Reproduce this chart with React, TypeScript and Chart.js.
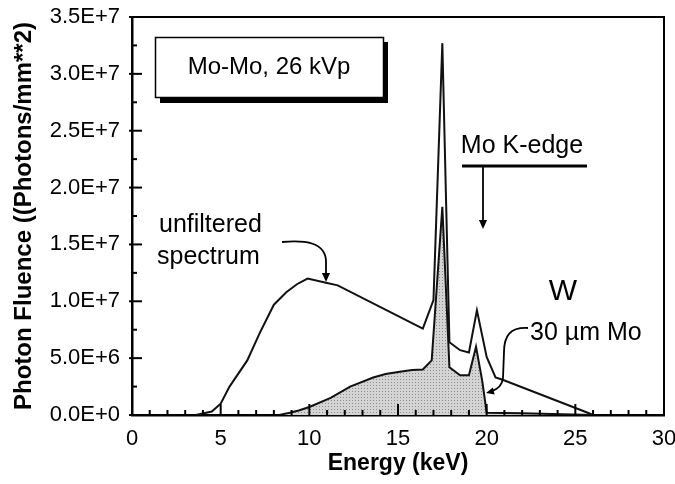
import React, { useEffect, useRef } from "react";
import { Chart, registerables } from "chart.js";

Chart.register(...registerables);

// ---- Data (energy in keV, fluence in photons/mm^2) ----
const unfilteredEnergy = [3.6, 4.5, 5.0, 5.5, 6.5, 7.2, 8.0, 8.7, 9.3, 9.9, 11.0, 11.6, 16.4, 17.0, 17.5, 17.9, 18.5, 19.0, 19.45, 20.0, 20.5, 20.9, 25.7, 26.0];
const unfilteredFluence = [0, 3.0e5, 1.0e6, 2.5e6, 4.8e6, 7.2e6, 9.7e6, 1.08e7, 1.15e7, 1.2e7, 1.16e7, 1.14e7, 7.6e6, 1.01e7, 3.27e7, 6.4e6, 5.7e6, 5.5e6, 9.2e6, 5.1e6, 3.3e6, 3.1e6, 2.0e5, 0];

const filteredEnergy = [8.3, 8.9, 9.4, 10.0, 11.2, 12.3, 13.6, 14.3, 15.1, 15.8, 16.4, 16.9, 17.5, 17.9, 18.5, 19.0, 19.4, 19.75, 20.0, 22.0, 26.0];
const filteredFluence = [0, 2.0e5, 4.0e5, 7.0e5, 1.5e6, 2.5e6, 3.3e6, 3.6e6, 3.8e6, 3.95e6, 4.0e6, 4.8e6, 1.83e7, 4.2e6, 3.5e6, 3.5e6, 6.0e6, 3.0e6, 2.0e5, 1.5e5, 0];

const xMin = 0;
const xMax = 30;
const xMajorStep = 5;
const xMinorStep = 1;
const yMin = 0;
const yMax = 3.5e7;
const yMajorStep = 5e6;
const yMinorStep = 2.5e6;

const FONT = '"Liberation Sans", Arial, Helvetica, sans-serif';

function fmtSci(v: number): string {
  if (v === 0) return "0.0E+0";
  const e = Math.floor(Math.log10(v) + 1e-9);
  const m = v / Math.pow(10, e);
  return m.toFixed(1) + "E+" + e;
}

function arrowHead(ctx: CanvasRenderingContext2D, x: number, y: number, angle: number, size: number) {
  ctx.save();
  ctx.translate(x, y);
  ctx.rotate(angle);
  ctx.beginPath();
  ctx.moveTo(0, 0);
  ctx.lineTo(-size, -size * 0.45);
  ctx.lineTo(-size, size * 0.45);
  ctx.closePath();
  ctx.fill();
  ctx.restore();
}

const decorPlugin = {
  id: "decor",
  afterDraw(chart: any) {
    const ctx: CanvasRenderingContext2D = chart.ctx;
    const { left, top, right, bottom } = chart.chartArea;
    const xs = chart.scales.x;
    const ys = chart.scales.y;
    ctx.save();
    ctx.strokeStyle = "#000";
    ctx.fillStyle = "#000";
    ctx.lineWidth = 2;
    // frame (top & right)
    ctx.beginPath();
    ctx.moveTo(left, top);
    ctx.lineTo(right, top);
    ctx.lineTo(right, bottom);
    ctx.stroke();
    // inward ticks
    for (let e = xMin; e <= xMax; e += xMinorStep) {
      const px = xs.getPixelForValue(e);
      const len = e % xMajorStep === 0 ? 11 : 5;
      ctx.beginPath();
      ctx.moveTo(px, bottom);
      ctx.lineTo(px, bottom - len);
      ctx.stroke();
    }
    for (let v = yMin; v <= yMax + 1; v += yMinorStep) {
      const py = ys.getPixelForValue(v);
      const major = Math.round(v / yMinorStep) % 2 === 0;
      ctx.beginPath();
      ctx.moveTo(left - (major ? 3 : 0), py);
      ctx.lineTo(left + (major ? 10 : 5), py);
      ctx.stroke();
    }

    // label box with shadow
    ctx.fillStyle = "#000";
    ctx.fillRect(160, 42, 228, 61);
    ctx.fillStyle = "#fff";
    ctx.fillRect(155, 37, 228, 60);
    ctx.lineWidth = 1.5;
    ctx.strokeRect(155.5, 37.5, 228, 60);
    ctx.fillStyle = "#000";
    ctx.font = `24px ${FONT}`;
    ctx.textBaseline = "middle";
    ctx.textAlign = "center";
    ctx.fillText("Mo-Mo, 26 kVp", 269, 67);

    // unfiltered spectrum
    ctx.textAlign = "left";
    ctx.font = `25px ${FONT}`;
    ctx.fillText("unfiltered", 159, 225);
    ctx.fillText("spectrum", 157, 257);
    ctx.lineWidth = 1.8;
    ctx.beginPath();
    ctx.moveTo(282, 242);
    ctx.bezierCurveTo(305, 240, 326, 242, 326, 262);
    ctx.lineTo(326, 274);
    ctx.stroke();
    arrowHead(ctx, 326, 282, Math.PI / 2, 9);

    // Mo K-edge
    ctx.textAlign = "center";
    ctx.font = `25px ${FONT}`;
    ctx.fillText("Mo K-edge", 522, 146);
    ctx.lineWidth = 3;
    ctx.beginPath();
    ctx.moveTo(462, 166);
    ctx.lineTo(587, 166);
    ctx.stroke();
    ctx.lineWidth = 1.8;
    ctx.beginPath();
    ctx.moveTo(483, 166);
    ctx.lineTo(483, 222);
    ctx.stroke();
    arrowHead(ctx, 483, 229, Math.PI / 2, 9);

    // W
    ctx.font = `30px ${FONT}`;
    ctx.fillText("W", 563, 292);

    // 30 um Mo
    ctx.textAlign = "left";
    ctx.font = `25px ${FONT}`;
    ctx.fillText("30 \u00b5m Mo", 530, 333);
    ctx.lineWidth = 1.8;
    ctx.beginPath();
    ctx.moveTo(528, 328);
    ctx.bezierCurveTo(510, 327, 504, 336, 504, 352);
    ctx.lineTo(503, 378);
    ctx.bezierCurveTo(502, 386, 498, 389, 492, 391);
    ctx.stroke();
    arrowHead(ctx, 486, 393, Math.PI * 0.92, 8);

    ctx.restore();
  },
};

export default function App() {
  const canvasRef = useRef<HTMLCanvasElement | null>(null);

  useEffect(() => {
    const canvas = canvasRef.current;
    if (!canvas) return;

    // dotted grey pattern for the filtered area
    const pc = document.createElement("canvas");
    pc.width = 3;
    pc.height = 3;
    const pctx = pc.getContext("2d")!;
    pctx.fillStyle = "#d4d4d4";
    pctx.fillRect(0, 0, 3, 3);
    pctx.fillStyle = "#8e8e8e";
    pctx.fillRect(1, 1, 1, 1);
    const pattern = canvas.getContext("2d")!.createPattern(pc, "repeat");

    const unfiltered = unfilteredEnergy.map((e, i) => ({ x: e, y: unfilteredFluence[i] }));
    const filtered = filteredEnergy.map((e, i) => ({ x: e, y: filteredFluence[i] }));

    const chart = new Chart(canvas, {
      type: "line",
      data: {
        datasets: [
          {
            label: "unfiltered spectrum",
            data: unfiltered,
            borderColor: "#111",
            borderWidth: 2,
            pointRadius: 0,
            tension: 0,
            fill: false,
          },
          {
            label: "30 µm Mo",
            data: filtered,
            borderColor: "#111",
            borderWidth: 2,
            pointRadius: 0,
            tension: 0,
            fill: "origin",
            backgroundColor: pattern as any,
          },
        ],
      },
      options: {
        responsive: false,
        maintainAspectRatio: false,
        animation: false,
        devicePixelRatio: 1,
        layout: { padding: { top: 17, right: 11, left: 0, bottom: 0 } },
        plugins: {
          legend: { display: false },
          tooltip: { enabled: false },
        },
        scales: {
          x: {
            type: "linear",
            min: xMin,
            max: xMax,
            grid: { display: false, drawTicks: false },
            border: { display: true, color: "#000", width: 2.5 },
            ticks: {
              stepSize: xMajorStep,
              color: "#000",
              font: { family: FONT, size: 22 },
              padding: 11,
              maxRotation: 0,
              callback: (v: any) => String(v),
            },
            title: {
              display: true,
              text: "Energy (keV)",
              color: "#000",
              font: { family: FONT, size: 23, weight: "bold" },
              padding: { top: 0, bottom: 7 },
            },
            afterFit: (scale: any) => {
              scale.height = 69;
              scale.paddingLeft = 0;
              scale.paddingRight = 0;
            },
          },
          y: {
            type: "linear",
            min: yMin,
            max: yMax,
            grid: { display: false, drawTicks: false },
            border: { display: true, color: "#000", width: 2.5 },
            ticks: {
              stepSize: yMajorStep,
              color: "#000",
              font: { family: FONT, size: 22 },
              padding: 12,
              callback: (v: any) => fmtSci(Number(v)),
            },
            title: {
              display: true,
              text: "Photon Fluence ((Photons/mm**2)",
              color: "#000",
              font: { family: FONT, size: 24, weight: "bold" },
              padding: { top: 10, bottom: 0 },
            },
            afterFit: (scale: any) => {
              scale.width = 132;
              scale.paddingTop = 0;
              scale.paddingBottom = 0;
            },
          },
        },
      },
      plugins: [decorPlugin],
    });

    return () => chart.destroy();
  }, []);

  return (
    <div style={{ position: "fixed", left: 0, top: 0, width: 675, height: 484, background: "#fff" }}>
      <canvas ref={canvasRef} width={675} height={484} style={{ display: "block", width: 675, height: 484 }} />
    </div>
  );
}
